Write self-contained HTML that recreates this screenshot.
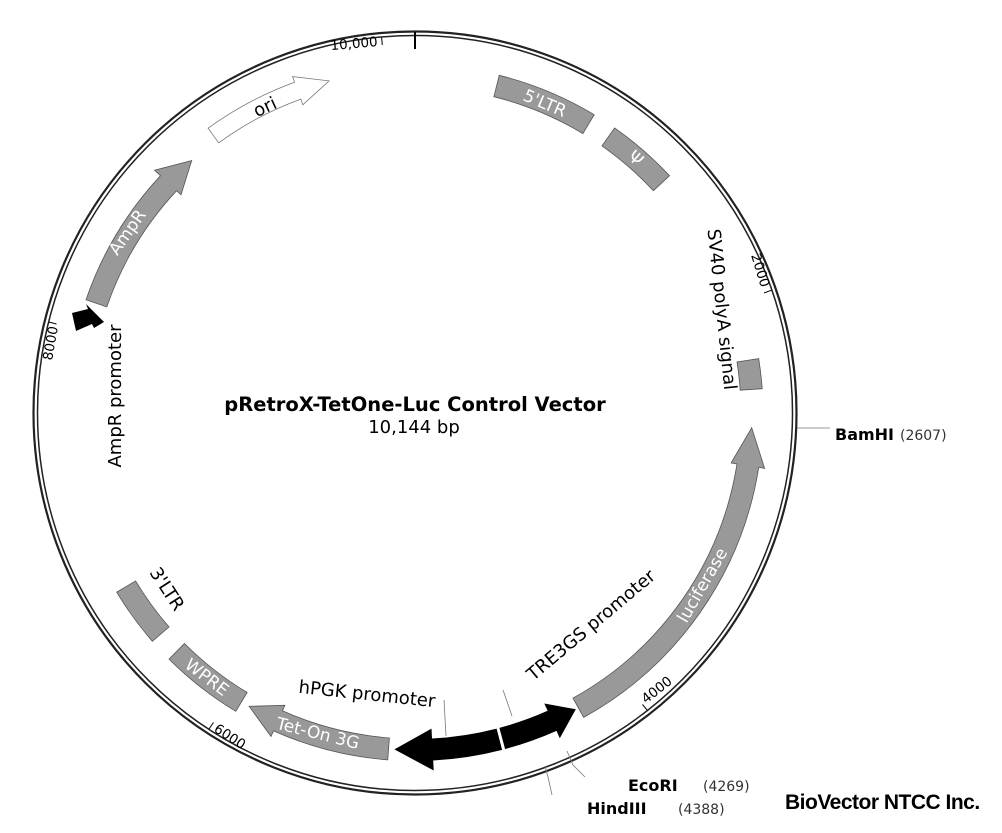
<!DOCTYPE html>
<html><head><meta charset="utf-8"><style>
html,body{margin:0;padding:0;background:#fff;}
svg{display:block;}
text{font-family:"DejaVu Sans","Liberation Sans",sans-serif;}
</style></head><body>
<svg width="1002" height="833" viewBox="0 0 1002 833" xmlns="http://www.w3.org/2000/svg">
<rect width="1002" height="833" fill="#fff"/>
<circle cx="415" cy="413" r="381.5" fill="none" stroke="#222" stroke-width="2.2"/>
<circle cx="415" cy="413" r="377.5" fill="none" stroke="#222" stroke-width="1.5"/>
<line x1="415" y1="32" x2="415" y2="49" stroke="#000" stroke-width="2"/>
<g stroke="#000" stroke-width="1">
<line x1="381.6" y1="37.5" x2="382.3" y2="45"/>
<line x1="771.5" y1="290.2" x2="764" y2="293"/>
<line x1="647.5" y1="710.6" x2="642.5" y2="704.5"/>
<line x1="209" y1="729" x2="213.5" y2="722.5"/>
<line x1="48.7" y1="322" x2="56.5" y2="324"/>
</g>
<g font-size="13.5" fill="#000">
<text x="378" y="46" text-anchor="end" transform="rotate(-5 378 46)">10,000</text>
<text x="761" y="288" text-anchor="end" transform="rotate(73 761 288)">2000</text>
<text x="646" y="704" transform="rotate(-38 646 704)">4000</text>
<text x="213" y="731" transform="rotate(33 213 731)">6000</text>
<text x="58" y="327" text-anchor="end" transform="rotate(-80 58 327)">8000</text>
</g>
<g fill="#999" stroke="#555" stroke-width="0.8">
<path d="M499.2,75.3 A348 348 0 0 1 594.2,114.7 L582.9,133.6 A326 326 0 0 0 493.9,96.7 Z"/>
<path d="M614.6,127.9 A348 348 0 0 1 669.5,175.7 L653.4,190.7 A326 326 0 0 0 602.0,145.9 Z"/>
<path d="M758.7,358.6 A348 348 0 0 1 762.2,388.7 L740.2,390.2 A326 326 0 0 0 737.0,362.0 Z"/>
<path d="M583.7,717.4 A348 348 0 0 0 758.7,467.4 L764.6,468.4 L751.7,427.7 L731.1,463.0 L737.0,464.0 A326 326 0 0 1 573.0,698.1 Z"/>
<path d="M387.7,759.9 A348 348 0 0 1 273.5,730.9 L271.0,736.4 L249.1,706.3 L284.9,705.3 L282.4,710.8 A326 326 0 0 0 389.4,738.0 Z"/>
<path d="M235.8,711.3 A348 348 0 0 1 169.0,659.1 L184.5,643.5 A326 326 0 0 0 247.1,692.5 Z"/>
<path d="M152.4,641.3 A348 348 0 0 1 116.7,592.2 L135.6,580.9 A326 326 0 0 0 169.0,626.9 Z"/>
<path d="M106.8,306.9 A326 326 0 0 1 176.6,190.7 L181.0,194.8 L191.7,160.6 L154.6,170.2 L160.5,175.7 A348 348 0 0 0 86.0,299.7 Z"/>
</g>
<path d="M218.7,142.8 A334 334 0 0 1 300.8,99.1 L302.8,104.8 L329.1,80.9 L292.6,76.6 L294.6,82.2 A352 352 0 0 0 208.1,128.2 Z" fill="#fff" stroke="#777" stroke-width="0.8"/>
<g fill="#000">
<path d="M505.1,749.1 A348 348 0 0 0 556.5,730.9 L559.8,738.2 L575.8,709.2 L544.3,703.5 L547.6,710.8 A326 326 0 0 1 499.4,727.9 Z"/>
<path d="M502.1,749.9 A348 348 0 0 1 433.2,760.5 L433.7,770.5 L394.4,749.4 L431.5,728.6 L432.0,738.5 A326 326 0 0 0 496.6,728.6 Z"/>
<path d="M72,313 L88,309 L86,304 L104,322 L94,328 L92,324 L76,331 Z"/>
</g>
<g fill="#fff" font-size="17">
<text x="545" y="109" text-anchor="middle" transform="rotate(23 545 103)">5'LTR</text>
<text x="636" y="164" text-anchor="middle" transform="rotate(41 636 158)">Ψ</text>
<text x="702" y="591" text-anchor="middle" transform="rotate(-60 702 585)">luciferase</text>
<text x="318" y="739" text-anchor="middle" transform="rotate(14 318 733)">Tet-On 3G</text>
<text x="207" y="683" text-anchor="middle" transform="rotate(37 207 677)">WPRE</text>
<text x="127" y="238" text-anchor="middle" transform="rotate(-55 127 232)">AmpR</text>
</g>
<g fill="#000" font-size="18">
<text x="265" y="113" text-anchor="middle" transform="rotate(-25 265 107)">ori</text>
<text x="167" y="595" text-anchor="middle" transform="rotate(57 167 589)">3'LTR</text>
<text x="716" y="310" text-anchor="middle" transform="rotate(84 716 310)">SV40 polyA signal</text>
<text x="121" y="396" text-anchor="middle" transform="rotate(-90 121 396)">AmpR promoter</text>
<text x="591" y="631" text-anchor="middle" transform="rotate(-40 591 625)">TRE3GS promoter</text>
<text x="367" y="700" text-anchor="middle" transform="rotate(6 367 694)">hPGK promoter</text>
</g>
<g stroke="#777" stroke-width="0.8" fill="none">
<line x1="444" y1="700" x2="446" y2="736"/>
<line x1="503" y1="690" x2="512" y2="716"/>
<line x1="797" y1="428" x2="830" y2="428"/>
<polyline points="567,751 573,765 585,777"/>
<polyline points="545,766 548,777 552,795"/>
</g>
<text x="835" y="440" font-size="16" font-weight="bold">BamHI</text>
<text x="900" y="440" font-size="14" fill="#333">(2607)</text>
<text x="628" y="791" font-size="16" font-weight="bold">EcoRI</text>
<text x="703" y="791" font-size="14" fill="#333">(4269)</text>
<text x="587" y="814" font-size="16" font-weight="bold">HindIII</text>
<text x="678" y="814" font-size="14" fill="#333">(4388)</text>
<text x="415" y="411" font-size="19.5" font-weight="bold" text-anchor="middle">pRetroX-TetOne-Luc Control Vector</text>
<text x="414" y="433" font-size="18" text-anchor="middle">10,144 bp</text>
<text x="785" y="809" font-size="21" font-weight="bold" style="font-family:'Liberation Sans Narrow','Liberation Sans',sans-serif" letter-spacing="-0.5">BioVector NTCC Inc.</text>
</svg>
</body></html>
